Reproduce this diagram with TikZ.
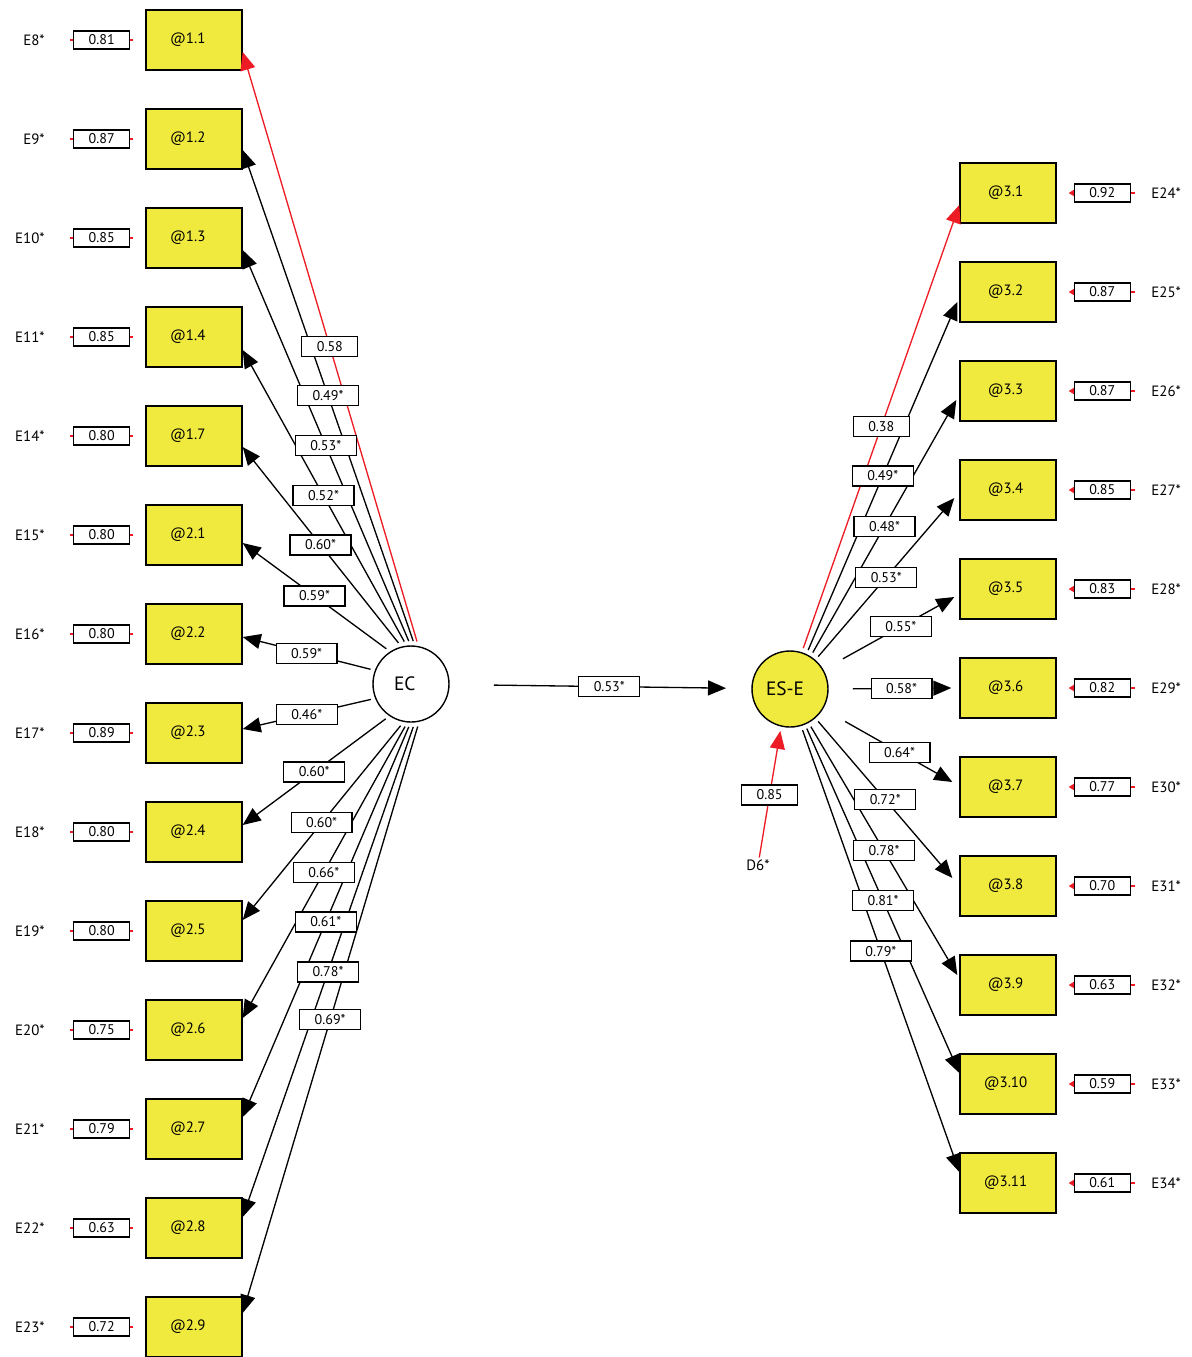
\documentclass[tikz,border=0pt]{standalone}
\usepackage{fontspec}
\setmainfont{PT Sans}
\usetikzlibrary{positioning,calc,arrows.meta}
\definecolor{boxyellow}{RGB}{240,233,62}
\definecolor{fixred}{RGB}{237,28,36}
\newcommand{\padr}[1]{\rule{#1}{0pt}}
\tikzset{
  ind/.style={draw, fill=boxyellow, line width=0.8pt, minimum width=1.92cm, minimum height=1.2cm, inner sep=0pt, font=\fontsize{8.5}{10}\selectfont},
  lat/.style={circle, draw, line width=0.8pt, minimum size=1.52cm, inner sep=0pt, outer sep=0.1cm, font=\fontsize{11}{13}\selectfont},
  coef/.style={draw, fill=white, line width=0.7pt, inner xsep=0.3cm, inner ysep=0pt, minimum height=0.4cm, font=\fontsize{8}{10}\selectfont},
  valbox/.style={coef, minimum height=0.36cm},
  errlab/.style={inner sep=0pt, font=\fontsize{8.5}{10}\selectfont},
  load/.style={line width=0.75pt, -{Triangle[length=0.36cm,width=0.3cm]}},
  errline/.style={fixred, line width=0.6pt}
}
\begin{document}
\begin{tikzpicture}[x=0.02cm, y=-0.02cm]
        \useasboundingbox (0,0) rectangle (1192,1357);

        % left indicators
        \foreach \lab/\err/\val [count=\i] in {1.1/8/0.81, 1.2/9/0.87, 1.3/10/0.85, 1.4/11/0.85, 1.7/14/0.80, 2.1/15/0.80, 2.2/16/0.80, 2.3/17/0.89, 2.4/18/0.80, 2.5/19/0.80, 2.6/20/0.75, 2.7/21/0.79, 2.8/22/0.63, 2.9/23/0.72} {
          \node[ind] (L\i) at (194,{40+99*(\i-1)}) {@\lab\padr{0.25cm}};
          \node[errlab, anchor=east] (EL\i) at (45,{40+99*(\i-1)}) {E\err*};
          \draw[errline, shorten <=0.5cm, shorten >=0.24cm] (EL\i) -- (L\i);
          \node[valbox, left=0.3cm of L\i] (VL\i) {\val};
        }

        % right indicators
        \foreach \err/\val [count=\i] in {24/0.92, 25/0.87, 26/0.87, 27/0.85, 28/0.83, 29/0.82, 30/0.77, 31/0.70, 32/0.63, 33/0.59, 34/0.61} {
          \node[ind] (R\i) at (1008,{193+99*(\i-1)}) {@3.\i\padr{0.1cm}};
          \node[errlab, anchor=west] (ER\i) at (1151,{193+99*(\i-1)}) {E\err*};
          \draw[errline, {Triangle[length=3pt,width=3.5pt]}-, shorten <=0.24cm, shorten >=0.32cm] (R\i) -- (ER\i);
          \node[valbox, right=0.34cm of R\i] (VR\i) {\val};
        }

        \node[lat] (EC) at (411,684) {EC\padr{0.25cm}};
        \node[lat, fill=boxyellow] (ESE) at (790,689) {ES-E\padr{0.2cm}};
        \node[errlab] (D6) at (758,865) {D6*};

        \def\leftload{82/12/0.58/fixred, 87/11/0.49*/black, 93/12/0.53*/black, 99/13/0.52*/black, 107/11/0.60*/black, 125/8/0.59*/black, 160/3/0.59*/black, 201/-4/0.46*/black, 234/-7/0.60*/black, 256/-11/0.60*/black, 262/-12/0.66*/black, 267/-12/0.61*/black, 273/-11/0.78*/black, 279/-14/0.69*/black}
        \def\rightload{72/0pt/0/12/0.5/0.38/fixred, 65/0pt/-2/10/0.5/0.49*/black, 58/0pt/-3/9/0.5/0.48*/black, 49/0pt/-5/8/0.5/0.53*/black, 30/0.36cm/-5/8/0.58/0.55*/black, 0/0.4cm/-8/0/0.58/0.58*/black, 329/0.42cm/-7/-5/0.58/0.64*/black, 311/0pt/-7/-8/0.5/0.72*/black, 299/0pt/-2/-10/0.5/0.78*/black, 293/0pt/0/-11/0.5/0.81*/black, 287/0pt/0/-11/0.5/0.79*/black}

        \foreach \a/\d/\c/\col [count=\i] in \leftload
          \draw[load, color=\col] (EC.\a) -- coordinate (mL\i) ($(L\i.east)+(0,\d)$);
        \foreach \a/\s/\dx/\dy/\p/\c/\col [count=\i] in \rightload
          \draw[load, color=\col, shorten <=\s] (ESE.\a) -- coordinate[pos=\p] (mR\i) ($(R\i.west)+(\dx,\dy)$);
        \draw[load, shorten <=0.8cm, shorten >=0.42cm] (EC) -- coordinate[pos=0.53] (mC) (ESE);
        \draw[load, color=fixred, shorten <=1pt] (D6) -- coordinate (mD) (ESE.257);

        % coefficients
        \foreach \a/\d/\c/\col [count=\i] in \leftload
          \node[coef] (cL\i) at (mL\i) {\c};
        \foreach \a/\s/\dx/\dy/\p/\c/\col [count=\i] in \rightload
          \node[coef] (cR\i) at (mR\i) {\c};
        \node[coef] (cC) at (mC) {0.53*};
        \node[coef] (cD) at (mD) {0.85};
      \end{tikzpicture}
\end{document}
